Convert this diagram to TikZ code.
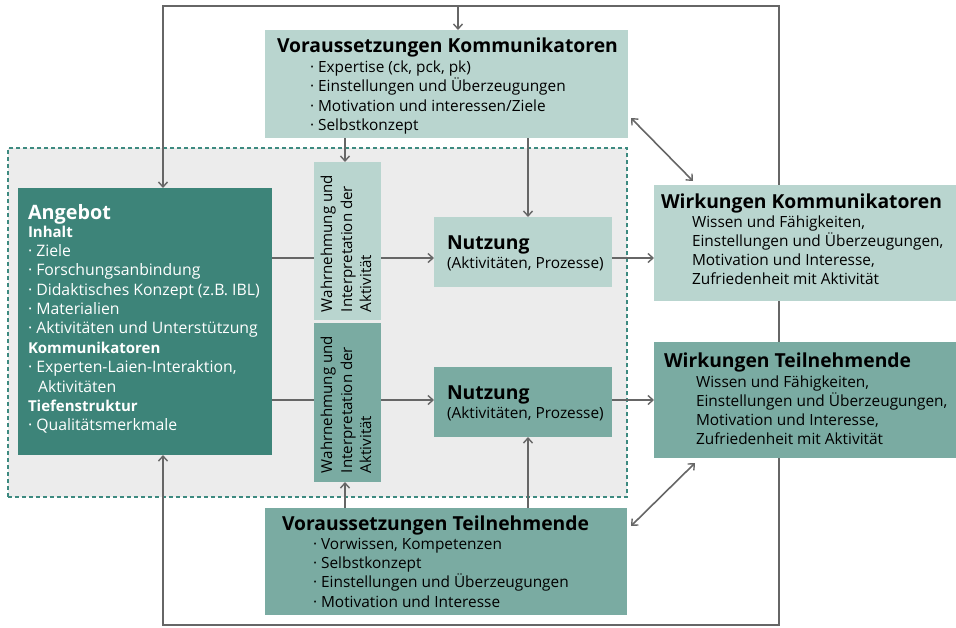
\documentclass[tikz,border=0pt]{standalone}
\usepackage{fontspec}
\setmainfont{Open Sans}
\usetikzlibrary{arrows.meta}
\definecolor{dteal}{HTML}{3D8479}
\definecolor{mteal}{HTML}{7AABA2}
\definecolor{lteal}{HTML}{B9D5CF}
\definecolor{bggray}{HTML}{ECECEC}
\definecolor{dashc}{HTML}{3D8A80}
\definecolor{arrc}{HTML}{666666}
\begin{document}
\begin{tikzpicture}[x=1pt,y=-1pt,
  box/.style={draw=none, inner sep=0pt, outer sep=0pt, anchor=north west},
  conn/.style={draw=arrc, line width=1.6pt},
  arrow/.style={conn, -{Straight Barb[length=5pt,width=9pt,line width=1.4pt]}},
  darrow/.style={conn, {Straight Barb[length=5pt,width=9pt,line width=1.4pt]}-{Straight Barb[length=5pt,width=9pt,line width=1.4pt]}},
  txt/.style={anchor=base west, inner sep=0pt, outer sep=0pt},
  vhead/.style={txt, font=\fontsize{19.3}{22}\selectfont\bfseries},
  vbody/.style={txt, font=\fontsize{15.4}{18}\selectfont},
  head/.style={txt, font=\fontsize{19.3}{22}\selectfont\bfseries},
  body/.style={txt, font=\fontsize{15.4}{18}\selectfont},
  abody/.style={txt, font=\fontsize{15.8}{18}\selectfont},
  bbold/.style={txt, font=\fontsize{15}{18}\selectfont\bfseries},
  rot/.style={txt, rotate=90, font=\fontsize{15.1}{18}\selectfont}
]
\useasboundingbox (0,0) rectangle (956,627);
% outer frame coordinates
\coordinate (tl) at (163,6);
\coordinate (tr) at (779,6);
\coordinate (bl) at (163,625);
\coordinate (br) at (779,625);
\coordinate (ta) at (458,6);
\draw[conn, line cap=rect] (tl) -- (tr) -- (br) -- (bl);

% zone
\node[box, fill=bggray, draw=dashc, line width=1.8pt, dash pattern=on 4pt off 3pt,
      minimum width=619pt, minimum height=349pt] (zone) at (8,148) {};

% boxes
\node[box, fill=lteal, minimum width=363pt, minimum height=108pt] (vk) at (265,30) {};
\node[box, fill=dteal, minimum width=254pt, minimum height=267pt] (ang) at (18,188) {};
\node[box, fill=lteal, minimum width=67pt, minimum height=158pt] (wa1) at (314,162) {};
\node[box, fill=mteal, minimum width=67pt, minimum height=159pt] (wa2) at (314,323) {};
\node[box, fill=lteal, minimum width=178pt, minimum height=70pt] (nu1) at (434,217) {};
\node[box, fill=mteal, minimum width=178pt, minimum height=70pt] (nu2) at (434,367) {};
\node[box, fill=lteal, minimum width=302pt, minimum height=116pt] (wk) at (654,185) {};
\node[box, fill=mteal, minimum width=302pt, minimum height=116pt] (wt) at (654,342) {};
\node[box, fill=mteal, minimum width=362pt, minimum height=107pt] (vt) at (265,508) {};

% connectors
\draw[arrow] (tl) -- (tl |- ang.north);
\draw[arrow] (bl) -- (bl |- ang.south);
\draw[arrow] (ta) -- (ta |- vk.north);
\coordinate (c1) at (345,0);
\coordinate (c2) at (528,0);
\draw[arrow] (c1 |- vk.south) -- (c1 |- wa1.north);
\draw[arrow] (c2 |- vk.south) -- (c2 |- nu1.north);
\draw[arrow] (c1 |- vt.north) -- (c1 |- wa2.south);
\draw[arrow] (c2 |- vt.north) -- (c2 |- nu2.south);
\coordinate (r1) at (0,258);
\coordinate (r2) at (0,400);
\draw[conn] (r1 -| ang.east) -- (r1 -| wa1.west);
\draw[conn] (r2 -| ang.east) -- (r2 -| wa2.west);
\draw[arrow] (r1 -| wa1.east) -- (r1 -| nu1.west);
\draw[arrow] (r2 -| wa2.east) -- (r2 -| nu2.west);
\draw[arrow] (r1 -| nu1.east) -- (r1 -| wk.west);
\draw[arrow] (r2 -| nu2.east) -- (r2 -| wt.west);
\coordinate (d1a) at (631,118);
\coordinate (d1b) at (693,181);
\coordinate (d2a) at (631,526);
\coordinate (d2b) at (695,463);
\draw[darrow] (d1a) -- (d1b);
\draw[darrow] (d2a) -- (d2b);

% texts: Voraussetzungen Kommunikatoren
\node[vhead] (vkh) at (277,52) {Voraussetzungen Kommunikatoren};
\node[vbody] (vk1) at (310,72) {· Expertise (ck, pck, pk)};
\node[vbody] (vk2) at (310,91.5) {· Einstellungen und Überzeugungen};
\node[vbody] (vk3) at (310,111) {· Motivation und interessen/Ziele};
\node[vbody] (vk4) at (310,130.5) {· Selbstkonzept};

% Voraussetzungen Teilnehmende
\node[vhead] (vth) at (282,530) {Voraussetzungen Teilnehmende};
\node[vbody] (vt1) at (313,549) {· Vorwissen, Kompetenzen};
\node[vbody] (vt2) at (313,568) {· Selbstkonzept};
\node[vbody] (vt3) at (313,587.5) {· Einstellungen und Überzeugungen};
\node[vbody] (vt4) at (313,607) {· Motivation und Interesse};

% Angebot
\begin{scope}[every node/.append style={text=white}]
\node[txt, font=\fontsize{19.8}{24}\selectfont\bfseries] (angh) at (28,219) {Angebot};
\node[bbold] (an1) at (28,237) {Inhalt};
\node[abody] (an2) at (28,256) {· Ziele};
\node[abody] (an3) at (28,275.5) {· Forschungsanbindung};
\node[abody] (an4) at (28,295) {· Didaktisches Konzept (z.B. IBL)};
\node[abody] (an5) at (28,314) {· Materialien};
\node[abody] (an6) at (28,333.5) {· Aktivitäten und Unterstützung};
\node[bbold] (an7) at (28,353) {Kommunikatoren};
\node[abody] (an8) at (28,372.5) {· Experten-Laien-Interaktion,};
\node[abody] (an9) at (38,392) {Aktivitäten};
\node[bbold] (an10) at (28,411) {Tiefenstruktur};
\node[abody] (an11) at (28,430.5) {· Qualitätsmerkmale};
\end{scope}

% Wahrnehmung
\node[rot] (w11) at (332,312) {Wahrnehmung und};
\node[rot] (w12) at (352,312) {Interpretation der};
\node[rot] (w13) at (371,312) {Aktivität};
\node[rot] (w21) at (332,473) {Wahrnehmung und};
\node[rot] (w22) at (352,473) {Interpretation der};
\node[rot] (w23) at (371,473) {Aktivität};

% Nutzung
\node[head] (n1h) at (447,249) {Nutzung};
\node[body] (n1b) at (447,268) {(Aktivitäten, Prozesse)};
\node[head] (n2h) at (447,399) {Nutzung};
\node[body] (n2b) at (447,418) {(Aktivitäten, Prozesse)};

% Wirkungen Kommunikatoren
\node[head] (wkh) at (661,208) {Wirkungen Kommunikatoren};
\node[body] (wk1) at (692,227.5) {Wissen und Fähigkeiten,};
\node[body] (wk2) at (692,246.5) {Einstellungen und Überzeugungen,};
\node[body] (wk3) at (692,265.5) {Motivation und Interesse,};
\node[body] (wk4) at (692,284.5) {Zufriedenheit mit Aktivität};

% Wirkungen Teilnehmende
\node[head] (wth) at (664,367) {Wirkungen Teilnehmende};
\node[body] (wt1) at (696,387.5) {Wissen und Fähigkeiten,};
\node[body] (wt2) at (696,406.5) {Einstellungen und Überzeugungen,};
\node[body] (wt3) at (696,425.5) {Motivation und Interesse,};
\node[body] (wt4) at (696,444.5) {Zufriedenheit mit Aktivität};
\end{tikzpicture}
\end{document}
